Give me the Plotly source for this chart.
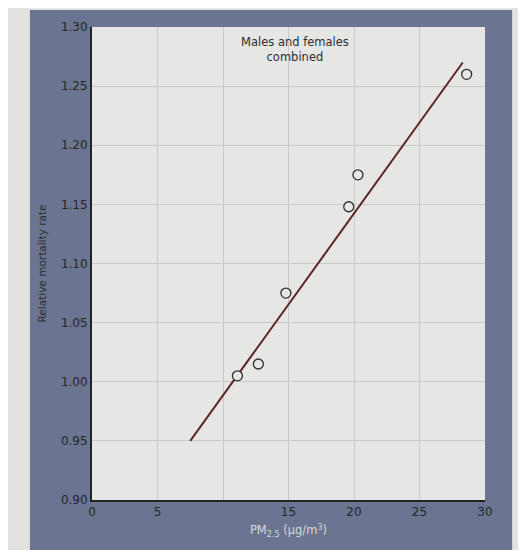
import plotly.graph_objects as go

# Data
pm25 = [11.1, 12.7, 14.8, 19.6, 20.3, 28.6]
mortality = [1.005, 1.015, 1.075, 1.148, 1.175, 1.26]
fit_x = [7.5, 28.3]
fit_y = [0.95, 1.27]
x_ticks = [0, 5, 15, 20, 25, 30]
x_ticktext = ["0", "5", "15", "20", "25", "30"]
x_extra_grid = [10]
y_ticks = [0.90, 0.95, 1.00, 1.05, 1.10, 1.15, 1.20, 1.25, 1.30]
y_ticktext = ["0.90", "0.95", "1.00", "1.05", "1.10", "1.15", "1.20", "1.25", "1.30"]

frame = "#6b7490"
plotbg = "#e6e6e4"
ink = "#2e2e2e"
grid = "#c9c9c7"

fig = go.Figure()
fig.add_trace(go.Scatter(x=fit_x, y=fit_y, mode="lines",
                         line=dict(color="#5a2626", width=2), showlegend=False))
fig.add_trace(go.Scatter(x=pm25, y=mortality, mode="markers",
                         marker=dict(size=10, color=plotbg, line=dict(color=ink, width=1.3)),
                         showlegend=False))

fig.add_annotation(x=15.5, y=1.281, xref="x", yref="y",
                   text="Males and females<br>combined", showarrow=False,
                   font=dict(family="DejaVu Sans", size=11.5, color=ink))

# photo-like frame and plot panel
fig.add_shape(type="rect", xref="paper", yref="paper", x0=-0.158, x1=1.069,
              y0=-0.116, y1=1.036, fillcolor=frame, line=dict(width=0), layer="below")
fig.add_shape(type="rect", xref="paper", yref="paper", x0=0, x1=1, y0=0, y1=1,
              fillcolor=plotbg, line=dict(width=0), layer="below")

fig.update_layout(
    width=510, height=542,
    margin=dict(l=84, r=33, t=17, b=50),
    paper_bgcolor="#e2e2e0",
    plot_bgcolor=plotbg,
    font=dict(family="DejaVu Sans", color=ink, size=11),
    xaxis=dict(range=[0, 30], tickvals=x_ticks, ticktext=x_ticktext,
               tickfont=dict(size=12, color="#262626"),
               showgrid=True, gridcolor=grid, gridwidth=1,
               minor=dict(tickvals=x_extra_grid, showgrid=True, gridcolor=grid, gridwidth=1, ticks=""),
               showline=True, linecolor="#222222", linewidth=2,
               ticks="", zeroline=False, fixedrange=True,
               title=dict(text="PM<sub>2.5</sub> (μg/m<sup>3</sup>)", standoff=8,
                          font=dict(size=11.5, color="#d8d8d8"))),
    yaxis=dict(range=[0.90, 1.30], tickvals=y_ticks, ticktext=y_ticktext,
               tickfont=dict(size=12, color="#262626"),
               showgrid=True, gridcolor=grid, gridwidth=1,
               showline=True, linecolor="#222222", linewidth=2,
               ticks="", zeroline=False, fixedrange=True,
               title=dict(text="Relative mortality rate", standoff=12,
                          font=dict(size=10.5, color=ink))),
)

fig.write_html("out.html")
